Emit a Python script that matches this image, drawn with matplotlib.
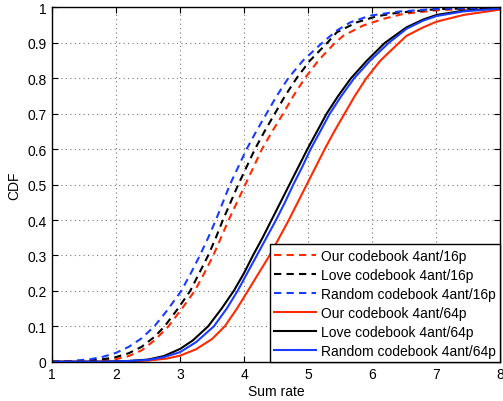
import matplotlib
matplotlib.use("Agg")
import matplotlib.pyplot as plt

plt.rcParams['font.family'] = ['Liberation Sans', 'DejaVu Sans']
plt.rcParams['font.size'] = 10

# ---- data ----
our16_x = [1.0, 1.5, 1.8, 2.0, 2.2, 2.4, 2.6, 2.82, 3.03, 3.23, 3.38, 3.52, 3.64, 3.76, 3.89, 4.02,
           4.15, 4.28, 4.44, 4.61, 4.77, 4.95, 5.16, 5.42, 5.55, 5.86, 6.18, 6.49, 7.0, 8.0]
our16_y = [0.0, 0.001, 0.004, 0.007, 0.016, 0.032, 0.06, 0.1, 0.15, 0.2, 0.25, 0.3, 0.35, 0.4, 0.45, 0.5,
           0.55, 0.6, 0.65, 0.7, 0.75, 0.8, 0.85, 0.9, 0.92, 0.949, 0.968, 0.982, 0.992, 1.0]

love16_x = [1.0, 1.5, 1.8, 2.0, 2.2, 2.4, 2.6, 2.76, 2.96, 3.16, 3.30, 3.44, 3.56, 3.67, 3.79, 3.91,
            4.04, 4.17, 4.32, 4.48, 4.64, 4.82, 5.03, 5.30, 5.45, 5.76, 6.07, 6.39, 7.0, 8.0]
love16_y = [0.0, 0.002, 0.007, 0.013, 0.024, 0.042, 0.07, 0.1, 0.148, 0.2, 0.25, 0.3, 0.35, 0.4, 0.45, 0.5,
            0.55, 0.6, 0.65, 0.7, 0.75, 0.8, 0.85, 0.9, 0.93, 0.958, 0.975, 0.985, 0.995, 1.0]

rand16_x = [1.0, 1.3, 1.6, 1.8, 2.0, 2.2, 2.4, 2.6, 2.8, 3.02, 3.17, 3.31, 3.44, 3.56, 3.67, 3.78,
            3.91, 4.04, 4.19, 4.35, 4.51, 4.69, 4.92, 5.22, 5.45, 5.66, 5.97, 6.39, 7.0, 8.0]
rand16_y = [0.0, 0.002, 0.007, 0.014, 0.025, 0.042, 0.066, 0.1, 0.145, 0.2, 0.25, 0.3, 0.35, 0.4, 0.45, 0.5,
            0.55, 0.6, 0.65, 0.7, 0.75, 0.8, 0.85, 0.9, 0.935, 0.958, 0.977, 0.988, 0.996, 1.0]

our64_x = [1.0, 2.0, 2.5, 2.8, 3.0, 3.25, 3.5, 3.70, 3.89, 4.06, 4.23, 4.40, 4.55, 4.70, 4.84, 4.98,
           5.12, 5.26, 5.41, 5.57, 5.73, 5.91, 6.13, 6.42, 6.54, 6.80, 7.01, 7.43, 8.0]
our64_y = [0.0, 0.0, 0.003, 0.009, 0.017, 0.035, 0.064, 0.1, 0.15, 0.2, 0.25, 0.3, 0.35, 0.4, 0.45, 0.5,
           0.55, 0.6, 0.65, 0.7, 0.75, 0.8, 0.85, 0.9, 0.92, 0.944, 0.96, 0.979, 0.994]

love64_x = [1.0, 1.8, 2.2, 2.5, 2.75, 3.0, 3.2, 3.44, 3.65, 3.84, 4.0, 4.14, 4.29, 4.43, 4.57, 4.71,
            4.85, 4.99, 5.14, 5.29, 5.47, 5.67, 5.92, 6.2, 6.54, 6.8, 7.01, 7.43, 8.0]
love64_y = [0.0, 0.0, 0.002, 0.006, 0.016, 0.036, 0.06, 0.1, 0.15, 0.2, 0.25, 0.3, 0.35, 0.4, 0.45, 0.5,
            0.55, 0.6, 0.65, 0.7, 0.75, 0.8, 0.85, 0.9, 0.944, 0.966, 0.979, 0.991, 0.998]

rand64_x = [1.0, 1.8, 2.2, 2.5, 2.75, 3.0, 3.25, 3.53, 3.73, 3.90, 4.05, 4.20, 4.35, 4.50, 4.64, 4.77,
            4.91, 5.04, 5.19, 5.34, 5.52, 5.72, 5.97, 6.26, 6.54, 6.80, 7.01, 7.43, 8.0]
rand64_y = [0.0, 0.0, 0.002, 0.005, 0.013, 0.027, 0.055, 0.1, 0.15, 0.2, 0.25, 0.3, 0.35, 0.4, 0.45, 0.5,
            0.55, 0.6, 0.65, 0.7, 0.75, 0.8, 0.85, 0.9, 0.94, 0.963, 0.976, 0.989, 0.997]

labels = ['Our codebook 4ant/16p', 'Love codebook 4ant/16p', 'Random codebook 4ant/16p',
          'Our codebook 4ant/64p', 'Love codebook 4ant/64p', 'Random codebook 4ant/64p']
xticks = [1, 2, 3, 4, 5, 6, 7, 8]
yticks = [0, 0.1, 0.2, 0.3, 0.4, 0.5, 0.6, 0.7, 0.8, 0.9, 1]
ytick_labels = ['0', '0.1', '0.2', '0.3', '0.4', '0.5', '0.6', '0.7', '0.8', '0.9', '1']

RED = '#ff2a00'
BLACK = '#000000'
BLUE = '#1a3cff'

fig = plt.figure(figsize=(5.03, 4.02), dpi=100)
ax = fig.add_axes([0.1034, 0.0978, 0.8907, 0.8811])

lw = 1.5
dash = (3.5, 2.5)
ax.plot(our16_x, our16_y, color=RED, lw=lw, dashes=dash, label=labels[0])
ax.plot(love16_x, love16_y, color=BLACK, lw=lw, dashes=dash, label=labels[1])
ax.plot(rand16_x, rand16_y, color=BLUE, lw=lw, dashes=dash, label=labels[2])
ax.plot(our64_x, our64_y, color=RED, lw=lw, label=labels[3])
ax.plot(love64_x, love64_y, color=BLACK, lw=lw, label=labels[4])
ax.plot(rand64_x, rand64_y, color=BLUE, lw=lw, label=labels[5])

ax.set_xlim(1, 8)
ax.set_ylim(0, 1)
ax.set_xticks(xticks)
ax.set_yticks(yticks)
ax.set_yticklabels(ytick_labels)
ax.tick_params(direction='in', top=True, right=True, length=4, width=0.8, pad=4, labelsize=10)
ax.grid(True, linestyle=(0, (1, 3)), color='#777777', linewidth=0.8)
for s in ax.spines.values():
    s.set_linewidth(1.0)

ax.set_xlabel('Sum rate', fontsize=10, labelpad=2)
ax.set_ylabel('CDF', fontsize=10, labelpad=4)

leg = ax.legend(loc='lower right', borderaxespad=0, fancybox=False, framealpha=1,
                edgecolor='black', fontsize=10, handlelength=3.0, handletextpad=0.35,
                labelspacing=0.36, borderpad=0.3)
leg.get_frame().set_linewidth(1.0)

fig.savefig('out.png', dpi=100)
